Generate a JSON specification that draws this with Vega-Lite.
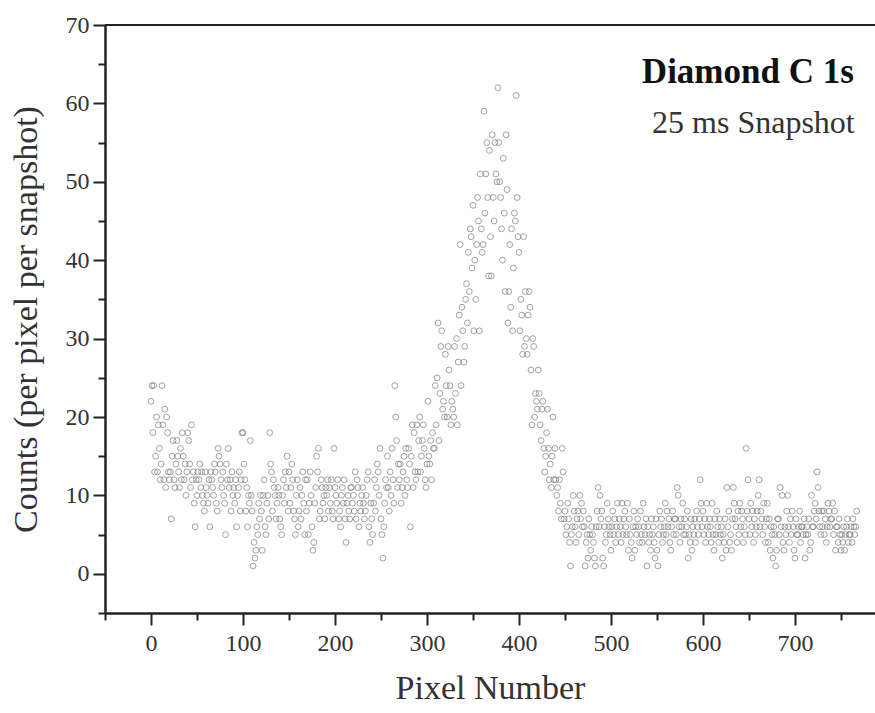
{
"$schema": "https://vega.github.io/schema/vega-lite/v6.json",
"autosize": {"type": "none"},
"padding": {"left": 105, "top": 25, "right": 0, "bottom": 100},
"width": 770,
"height": 588,
"background": "white",
"config": {"view": {"stroke": null}, "axis": {"grid": false}},
"datasets": {
"spectrum": [
{"pixel":0,"counts":22},{"pixel":1,"counts":24},{"pixel":2,"counts":18},{"pixel":3,"counts":24},{"pixel":4,"counts":13},{"pixel":5,"counts":15},{"pixel":6,"counts":20},{"pixel":7,"counts":13},{"pixel":8,"counts":19},{"pixel":9,"counts":16},
{"pixel":10,"counts":12},{"pixel":11,"counts":14},{"pixel":12,"counts":24},{"pixel":13,"counts":19},{"pixel":14,"counts":12},{"pixel":15,"counts":21},{"pixel":16,"counts":11},{"pixel":17,"counts":20},{"pixel":18,"counts":18},{"pixel":19,"counts":13},
{"pixel":20,"counts":12},{"pixel":21,"counts":13},{"pixel":22,"counts":7},{"pixel":23,"counts":15},{"pixel":24,"counts":17},{"pixel":25,"counts":12},{"pixel":26,"counts":11},{"pixel":27,"counts":14},{"pixel":28,"counts":17},{"pixel":29,"counts":15},
{"pixel":30,"counts":13},{"pixel":31,"counts":11},{"pixel":32,"counts":16},{"pixel":33,"counts":12},{"pixel":34,"counts":18},{"pixel":35,"counts":15},{"pixel":36,"counts":12},{"pixel":37,"counts":14},{"pixel":38,"counts":10},{"pixel":39,"counts":13},
{"pixel":40,"counts":18},{"pixel":41,"counts":17},{"pixel":42,"counts":14},{"pixel":43,"counts":11},{"pixel":44,"counts":19},{"pixel":45,"counts":12},{"pixel":46,"counts":13},{"pixel":47,"counts":9},{"pixel":48,"counts":6},{"pixel":49,"counts":12},
{"pixel":50,"counts":10},{"pixel":51,"counts":13},{"pixel":52,"counts":12},{"pixel":53,"counts":14},{"pixel":54,"counts":11},{"pixel":55,"counts":13},{"pixel":56,"counts":10},{"pixel":57,"counts":9},{"pixel":58,"counts":8},{"pixel":59,"counts":13},
{"pixel":60,"counts":11},{"pixel":61,"counts":10},{"pixel":62,"counts":9},{"pixel":63,"counts":12},{"pixel":64,"counts":6},{"pixel":65,"counts":13},{"pixel":66,"counts":12},{"pixel":67,"counts":11},{"pixel":68,"counts":10},{"pixel":69,"counts":14},
{"pixel":70,"counts":13},{"pixel":71,"counts":9},{"pixel":72,"counts":8},{"pixel":73,"counts":16},{"pixel":74,"counts":15},{"pixel":75,"counts":14},{"pixel":76,"counts":12},{"pixel":77,"counts":11},{"pixel":78,"counts":13},{"pixel":79,"counts":10},
{"pixel":80,"counts":9},{"pixel":81,"counts":5},{"pixel":82,"counts":14},{"pixel":83,"counts":12},{"pixel":84,"counts":16},{"pixel":85,"counts":11},{"pixel":86,"counts":12},{"pixel":87,"counts":8},{"pixel":88,"counts":13},{"pixel":89,"counts":10},
{"pixel":90,"counts":11},{"pixel":91,"counts":9},{"pixel":92,"counts":12},{"pixel":93,"counts":6},{"pixel":94,"counts":10},{"pixel":95,"counts":11},{"pixel":96,"counts":13},{"pixel":97,"counts":8},{"pixel":98,"counts":12},{"pixel":99,"counts":18},
{"pixel":100,"counts":18},{"pixel":101,"counts":14},{"pixel":102,"counts":12},{"pixel":103,"counts":8},{"pixel":104,"counts":11},{"pixel":105,"counts":6},{"pixel":106,"counts":10},{"pixel":107,"counts":9},{"pixel":108,"counts":17},{"pixel":109,"counts":10},
{"pixel":110,"counts":8},{"pixel":111,"counts":1},{"pixel":112,"counts":4},{"pixel":113,"counts":2},{"pixel":114,"counts":3},{"pixel":115,"counts":6},{"pixel":116,"counts":5},{"pixel":117,"counts":9},{"pixel":118,"counts":7},{"pixel":119,"counts":10},
{"pixel":120,"counts":8},{"pixel":121,"counts":3},{"pixel":122,"counts":10},{"pixel":123,"counts":12},{"pixel":124,"counts":6},{"pixel":125,"counts":5},{"pixel":126,"counts":9},{"pixel":127,"counts":10},{"pixel":128,"counts":7},{"pixel":129,"counts":18},
{"pixel":130,"counts":14},{"pixel":131,"counts":13},{"pixel":132,"counts":8},{"pixel":133,"counts":12},{"pixel":134,"counts":11},{"pixel":135,"counts":10},{"pixel":136,"counts":7},{"pixel":137,"counts":9},{"pixel":138,"counts":11},{"pixel":139,"counts":10},
{"pixel":140,"counts":7},{"pixel":141,"counts":6},{"pixel":142,"counts":5},{"pixel":143,"counts":10},{"pixel":144,"counts":12},{"pixel":145,"counts":9},{"pixel":146,"counts":13},{"pixel":147,"counts":11},{"pixel":148,"counts":15},{"pixel":149,"counts":8},
{"pixel":150,"counts":13},{"pixel":151,"counts":9},{"pixel":152,"counts":11},{"pixel":153,"counts":14},{"pixel":154,"counts":12},{"pixel":155,"counts":8},{"pixel":156,"counts":7},{"pixel":157,"counts":5},{"pixel":158,"counts":10},{"pixel":159,"counts":12},
{"pixel":160,"counts":6},{"pixel":161,"counts":8},{"pixel":162,"counts":11},{"pixel":163,"counts":7},{"pixel":164,"counts":10},{"pixel":165,"counts":13},{"pixel":166,"counts":9},{"pixel":167,"counts":5},{"pixel":168,"counts":12},{"pixel":169,"counts":8},
{"pixel":170,"counts":12},{"pixel":171,"counts":5},{"pixel":172,"counts":9},{"pixel":173,"counts":13},{"pixel":174,"counts":10},{"pixel":175,"counts":6},{"pixel":176,"counts":3},{"pixel":177,"counts":4},{"pixel":178,"counts":9},{"pixel":179,"counts":11},
{"pixel":180,"counts":15},{"pixel":181,"counts":13},{"pixel":182,"counts":16},{"pixel":183,"counts":7},{"pixel":184,"counts":8},{"pixel":185,"counts":12},{"pixel":186,"counts":11},{"pixel":187,"counts":9},{"pixel":188,"counts":10},{"pixel":189,"counts":7},
{"pixel":190,"counts":11},{"pixel":191,"counts":10},{"pixel":192,"counts":12},{"pixel":193,"counts":8},{"pixel":194,"counts":11},{"pixel":195,"counts":9},{"pixel":196,"counts":12},{"pixel":197,"counts":8},{"pixel":198,"counts":7},{"pixel":199,"counts":16},
{"pixel":200,"counts":11},{"pixel":201,"counts":10},{"pixel":202,"counts":9},{"pixel":203,"counts":12},{"pixel":204,"counts":7},{"pixel":205,"counts":8},{"pixel":206,"counts":6},{"pixel":207,"counts":10},{"pixel":208,"counts":11},{"pixel":209,"counts":9},
{"pixel":210,"counts":12},{"pixel":211,"counts":7},{"pixel":212,"counts":4},{"pixel":213,"counts":9},{"pixel":214,"counts":10},{"pixel":215,"counts":8},{"pixel":216,"counts":7},{"pixel":217,"counts":11},{"pixel":218,"counts":11},{"pixel":219,"counts":9},
{"pixel":220,"counts":10},{"pixel":221,"counts":8},{"pixel":222,"counts":13},{"pixel":223,"counts":7},{"pixel":224,"counts":12},{"pixel":225,"counts":11},{"pixel":226,"counts":6},{"pixel":227,"counts":9},{"pixel":228,"counts":8},{"pixel":229,"counts":10},
{"pixel":230,"counts":11},{"pixel":231,"counts":9},{"pixel":232,"counts":7},{"pixel":233,"counts":8},{"pixel":234,"counts":10},{"pixel":235,"counts":12},{"pixel":236,"counts":13},{"pixel":237,"counts":6},{"pixel":238,"counts":4},{"pixel":239,"counts":9},
{"pixel":240,"counts":7},{"pixel":241,"counts":5},{"pixel":242,"counts":9},{"pixel":243,"counts":12},{"pixel":244,"counts":8},{"pixel":245,"counts":11},{"pixel":246,"counts":14},{"pixel":247,"counts":13},{"pixel":248,"counts":10},{"pixel":249,"counts":16},
{"pixel":250,"counts":7},{"pixel":251,"counts":5},{"pixel":252,"counts":2},{"pixel":253,"counts":6},{"pixel":254,"counts":9},{"pixel":255,"counts":12},{"pixel":256,"counts":11},{"pixel":257,"counts":15},{"pixel":258,"counts":11},{"pixel":259,"counts":8},
{"pixel":260,"counts":13},{"pixel":261,"counts":10},{"pixel":262,"counts":16},{"pixel":263,"counts":12},{"pixel":264,"counts":9},{"pixel":265,"counts":24},{"pixel":266,"counts":20},{"pixel":267,"counts":17},{"pixel":268,"counts":11},{"pixel":269,"counts":14},
{"pixel":270,"counts":12},{"pixel":271,"counts":14},{"pixel":272,"counts":9},{"pixel":273,"counts":11},{"pixel":274,"counts":13},{"pixel":275,"counts":15},{"pixel":276,"counts":10},{"pixel":277,"counts":16},{"pixel":278,"counts":12},{"pixel":279,"counts":11},
{"pixel":280,"counts":16},{"pixel":281,"counts":14},{"pixel":282,"counts":6},{"pixel":283,"counts":15},{"pixel":284,"counts":19},{"pixel":285,"counts":11},{"pixel":286,"counts":18},{"pixel":287,"counts":13},{"pixel":288,"counts":12},{"pixel":289,"counts":19},
{"pixel":290,"counts":13},{"pixel":291,"counts":17},{"pixel":292,"counts":20},{"pixel":293,"counts":13},{"pixel":294,"counts":15},{"pixel":295,"counts":17},{"pixel":296,"counts":19},{"pixel":297,"counts":16},{"pixel":298,"counts":12},{"pixel":299,"counts":11},
{"pixel":300,"counts":14},{"pixel":301,"counts":22},{"pixel":302,"counts":15},{"pixel":303,"counts":14},{"pixel":304,"counts":17},{"pixel":305,"counts":12},{"pixel":306,"counts":18},{"pixel":307,"counts":16},{"pixel":308,"counts":16},{"pixel":309,"counts":24},
{"pixel":310,"counts":19},{"pixel":311,"counts":25},{"pixel":312,"counts":32},{"pixel":313,"counts":17},{"pixel":314,"counts":23},{"pixel":315,"counts":29},{"pixel":316,"counts":31},{"pixel":317,"counts":21},{"pixel":318,"counts":22},{"pixel":319,"counts":20},
{"pixel":320,"counts":28},{"pixel":321,"counts":24},{"pixel":322,"counts":20},{"pixel":323,"counts":29},{"pixel":324,"counts":26},{"pixel":325,"counts":24},{"pixel":326,"counts":19},{"pixel":327,"counts":22},{"pixel":328,"counts":21},{"pixel":329,"counts":20},
{"pixel":330,"counts":29},{"pixel":331,"counts":23},{"pixel":332,"counts":30},{"pixel":333,"counts":19},{"pixel":334,"counts":27},{"pixel":335,"counts":33},{"pixel":336,"counts":42},{"pixel":337,"counts":24},{"pixel":338,"counts":34},{"pixel":339,"counts":31},
{"pixel":340,"counts":27},{"pixel":341,"counts":29},{"pixel":342,"counts":35},{"pixel":343,"counts":37},{"pixel":344,"counts":32},{"pixel":345,"counts":41},{"pixel":346,"counts":36},{"pixel":347,"counts":44},{"pixel":348,"counts":43},{"pixel":349,"counts":39},
{"pixel":350,"counts":47},{"pixel":351,"counts":31},{"pixel":352,"counts":40},{"pixel":353,"counts":35},{"pixel":354,"counts":42},{"pixel":355,"counts":48},{"pixel":356,"counts":45},{"pixel":357,"counts":31},{"pixel":358,"counts":51},{"pixel":359,"counts":44},
{"pixel":360,"counts":41},{"pixel":361,"counts":42},{"pixel":362,"counts":59},{"pixel":363,"counts":46},{"pixel":364,"counts":51},{"pixel":365,"counts":55},{"pixel":366,"counts":48},{"pixel":367,"counts":38},{"pixel":368,"counts":54},{"pixel":369,"counts":43},
{"pixel":370,"counts":38},{"pixel":371,"counts":56},{"pixel":372,"counts":48},{"pixel":373,"counts":45},{"pixel":374,"counts":55},{"pixel":375,"counts":51},{"pixel":376,"counts":50},{"pixel":377,"counts":62},{"pixel":378,"counts":55},{"pixel":379,"counts":50},
{"pixel":380,"counts":48},{"pixel":381,"counts":44},{"pixel":382,"counts":40},{"pixel":383,"counts":53},{"pixel":384,"counts":46},{"pixel":385,"counts":36},{"pixel":386,"counts":56},{"pixel":387,"counts":49},{"pixel":388,"counts":32},{"pixel":389,"counts":36},
{"pixel":390,"counts":42},{"pixel":391,"counts":34},{"pixel":392,"counts":44},{"pixel":393,"counts":31},{"pixel":394,"counts":39},{"pixel":395,"counts":46},{"pixel":396,"counts":45},{"pixel":397,"counts":61},{"pixel":398,"counts":48},{"pixel":399,"counts":43},
{"pixel":400,"counts":41},{"pixel":401,"counts":31},{"pixel":402,"counts":35},{"pixel":403,"counts":33},{"pixel":404,"counts":28},{"pixel":405,"counts":43},{"pixel":406,"counts":29},{"pixel":407,"counts":36},{"pixel":408,"counts":30},{"pixel":409,"counts":28},
{"pixel":410,"counts":33},{"pixel":411,"counts":36},{"pixel":412,"counts":34},{"pixel":413,"counts":26},{"pixel":414,"counts":19},{"pixel":415,"counts":30},{"pixel":416,"counts":29},{"pixel":417,"counts":20},{"pixel":418,"counts":23},{"pixel":419,"counts":22},
{"pixel":420,"counts":21},{"pixel":421,"counts":26},{"pixel":422,"counts":23},{"pixel":423,"counts":19},{"pixel":424,"counts":17},{"pixel":425,"counts":21},{"pixel":426,"counts":22},{"pixel":427,"counts":16},{"pixel":428,"counts":13},{"pixel":429,"counts":15},
{"pixel":430,"counts":18},{"pixel":431,"counts":21},{"pixel":432,"counts":16},{"pixel":433,"counts":12},{"pixel":434,"counts":14},{"pixel":435,"counts":11},{"pixel":436,"counts":15},{"pixel":437,"counts":20},{"pixel":438,"counts":12},{"pixel":439,"counts":16},
{"pixel":440,"counts":12},{"pixel":441,"counts":10},{"pixel":442,"counts":11},{"pixel":443,"counts":8},{"pixel":444,"counts":12},{"pixel":445,"counts":9},{"pixel":446,"counts":7},{"pixel":447,"counts":16},{"pixel":448,"counts":13},{"pixel":449,"counts":7},
{"pixel":450,"counts":8},{"pixel":451,"counts":5},{"pixel":452,"counts":6},{"pixel":453,"counts":9},{"pixel":454,"counts":7},{"pixel":455,"counts":4},{"pixel":456,"counts":1},{"pixel":457,"counts":5},{"pixel":458,"counts":6},{"pixel":459,"counts":10},
{"pixel":460,"counts":8},{"pixel":461,"counts":6},{"pixel":462,"counts":4},{"pixel":463,"counts":7},{"pixel":464,"counts":8},{"pixel":465,"counts":5},{"pixel":466,"counts":10},{"pixel":467,"counts":7},{"pixel":468,"counts":9},{"pixel":469,"counts":6},
{"pixel":470,"counts":8},{"pixel":471,"counts":6},{"pixel":472,"counts":1},{"pixel":473,"counts":4},{"pixel":474,"counts":5},{"pixel":475,"counts":2},{"pixel":476,"counts":7},{"pixel":477,"counts":5},{"pixel":478,"counts":3},{"pixel":479,"counts":6},
{"pixel":480,"counts":5},{"pixel":481,"counts":4},{"pixel":482,"counts":2},{"pixel":483,"counts":1},{"pixel":484,"counts":6},{"pixel":485,"counts":8},{"pixel":486,"counts":11},{"pixel":487,"counts":6},{"pixel":488,"counts":10},{"pixel":489,"counts":7},
{"pixel":490,"counts":8},{"pixel":491,"counts":2},{"pixel":492,"counts":1},{"pixel":493,"counts":6},{"pixel":494,"counts":4},{"pixel":495,"counts":5},{"pixel":496,"counts":9},{"pixel":497,"counts":7},{"pixel":498,"counts":6},{"pixel":499,"counts":5},
{"pixel":500,"counts":3},{"pixel":501,"counts":6},{"pixel":502,"counts":8},{"pixel":503,"counts":5},{"pixel":504,"counts":7},{"pixel":505,"counts":4},{"pixel":506,"counts":6},{"pixel":507,"counts":9},{"pixel":508,"counts":5},{"pixel":509,"counts":7},
{"pixel":510,"counts":6},{"pixel":511,"counts":4},{"pixel":512,"counts":9},{"pixel":513,"counts":5},{"pixel":514,"counts":7},{"pixel":515,"counts":8},{"pixel":516,"counts":6},{"pixel":517,"counts":5},{"pixel":518,"counts":9},{"pixel":519,"counts":3},
{"pixel":520,"counts":7},{"pixel":521,"counts":5},{"pixel":522,"counts":4},{"pixel":523,"counts":2},{"pixel":524,"counts":6},{"pixel":525,"counts":8},{"pixel":526,"counts":3},{"pixel":527,"counts":6},{"pixel":528,"counts":5},{"pixel":529,"counts":7},
{"pixel":530,"counts":6},{"pixel":531,"counts":4},{"pixel":532,"counts":8},{"pixel":533,"counts":5},{"pixel":534,"counts":4},{"pixel":535,"counts":9},{"pixel":536,"counts":6},{"pixel":537,"counts":5},{"pixel":538,"counts":7},{"pixel":539,"counts":1},
{"pixel":540,"counts":6},{"pixel":541,"counts":4},{"pixel":542,"counts":5},{"pixel":543,"counts":3},{"pixel":544,"counts":7},{"pixel":545,"counts":5},{"pixel":546,"counts":6},{"pixel":547,"counts":4},{"pixel":548,"counts":2},{"pixel":549,"counts":7},
{"pixel":550,"counts":3},{"pixel":551,"counts":1},{"pixel":552,"counts":5},{"pixel":553,"counts":8},{"pixel":554,"counts":6},{"pixel":555,"counts":7},{"pixel":556,"counts":4},{"pixel":557,"counts":5},{"pixel":558,"counts":6},{"pixel":559,"counts":9},
{"pixel":560,"counts":5},{"pixel":561,"counts":8},{"pixel":562,"counts":6},{"pixel":563,"counts":7},{"pixel":564,"counts":4},{"pixel":565,"counts":3},{"pixel":566,"counts":6},{"pixel":567,"counts":8},{"pixel":568,"counts":5},{"pixel":569,"counts":7},
{"pixel":570,"counts":7},{"pixel":571,"counts":5},{"pixel":572,"counts":11},{"pixel":573,"counts":10},{"pixel":574,"counts":6},{"pixel":575,"counts":4},{"pixel":576,"counts":7},{"pixel":577,"counts":6},{"pixel":578,"counts":9},{"pixel":579,"counts":5},
{"pixel":580,"counts":7},{"pixel":581,"counts":5},{"pixel":582,"counts":6},{"pixel":583,"counts":8},{"pixel":584,"counts":2},{"pixel":585,"counts":5},{"pixel":586,"counts":4},{"pixel":587,"counts":7},{"pixel":588,"counts":3},{"pixel":589,"counts":6},
{"pixel":590,"counts":5},{"pixel":591,"counts":7},{"pixel":592,"counts":4},{"pixel":593,"counts":8},{"pixel":594,"counts":6},{"pixel":595,"counts":5},{"pixel":596,"counts":7},{"pixel":597,"counts":12},{"pixel":598,"counts":9},{"pixel":599,"counts":6},
{"pixel":600,"counts":8},{"pixel":601,"counts":5},{"pixel":602,"counts":7},{"pixel":603,"counts":4},{"pixel":604,"counts":9},{"pixel":605,"counts":6},{"pixel":606,"counts":5},{"pixel":607,"counts":7},{"pixel":608,"counts":6},{"pixel":609,"counts":4},
{"pixel":610,"counts":9},{"pixel":611,"counts":5},{"pixel":612,"counts":3},{"pixel":613,"counts":7},{"pixel":614,"counts":5},{"pixel":615,"counts":8},{"pixel":616,"counts":6},{"pixel":617,"counts":4},{"pixel":618,"counts":7},{"pixel":619,"counts":5},
{"pixel":620,"counts":6},{"pixel":621,"counts":2},{"pixel":622,"counts":5},{"pixel":623,"counts":4},{"pixel":624,"counts":7},{"pixel":625,"counts":3},{"pixel":626,"counts":11},{"pixel":627,"counts":6},{"pixel":628,"counts":8},{"pixel":629,"counts":4},
{"pixel":630,"counts":5},{"pixel":631,"counts":3},{"pixel":632,"counts":7},{"pixel":633,"counts":11},{"pixel":634,"counts":9},{"pixel":635,"counts":7},{"pixel":636,"counts":6},{"pixel":637,"counts":4},{"pixel":638,"counts":8},{"pixel":639,"counts":5},
{"pixel":640,"counts":9},{"pixel":641,"counts":6},{"pixel":642,"counts":8},{"pixel":643,"counts":7},{"pixel":644,"counts":4},{"pixel":645,"counts":6},{"pixel":646,"counts":5},{"pixel":647,"counts":16},{"pixel":648,"counts":8},{"pixel":649,"counts":12},
{"pixel":650,"counts":7},{"pixel":651,"counts":5},{"pixel":652,"counts":9},{"pixel":653,"counts":6},{"pixel":654,"counts":8},{"pixel":655,"counts":4},{"pixel":656,"counts":7},{"pixel":657,"counts":5},{"pixel":658,"counts":6},{"pixel":659,"counts":8},
{"pixel":660,"counts":10},{"pixel":661,"counts":12},{"pixel":662,"counts":6},{"pixel":663,"counts":8},{"pixel":664,"counts":7},{"pixel":665,"counts":5},{"pixel":666,"counts":9},{"pixel":667,"counts":6},{"pixel":668,"counts":4},{"pixel":669,"counts":7},
{"pixel":670,"counts":9},{"pixel":671,"counts":4},{"pixel":672,"counts":7},{"pixel":673,"counts":3},{"pixel":674,"counts":6},{"pixel":675,"counts":5},{"pixel":676,"counts":2},{"pixel":677,"counts":6},{"pixel":678,"counts":5},{"pixel":679,"counts":1},
{"pixel":680,"counts":3},{"pixel":681,"counts":7},{"pixel":682,"counts":7},{"pixel":683,"counts":5},{"pixel":684,"counts":11},{"pixel":685,"counts":6},{"pixel":686,"counts":10},{"pixel":687,"counts":4},{"pixel":688,"counts":3},{"pixel":689,"counts":6},
{"pixel":690,"counts":5},{"pixel":691,"counts":8},{"pixel":692,"counts":10},{"pixel":693,"counts":6},{"pixel":694,"counts":4},{"pixel":695,"counts":7},{"pixel":696,"counts":5},{"pixel":697,"counts":8},{"pixel":698,"counts":6},{"pixel":699,"counts":3},
{"pixel":700,"counts":2},{"pixel":701,"counts":7},{"pixel":702,"counts":5},{"pixel":703,"counts":5},{"pixel":704,"counts":6},{"pixel":705,"counts":8},{"pixel":706,"counts":4},{"pixel":707,"counts":6},{"pixel":708,"counts":6},{"pixel":709,"counts":5},
{"pixel":710,"counts":7},{"pixel":711,"counts":2},{"pixel":712,"counts":5},{"pixel":713,"counts":6},{"pixel":714,"counts":5},{"pixel":715,"counts":7},{"pixel":716,"counts":3},{"pixel":717,"counts":4},{"pixel":718,"counts":10},{"pixel":719,"counts":6},
{"pixel":720,"counts":6},{"pixel":721,"counts":8},{"pixel":722,"counts":9},{"pixel":723,"counts":7},{"pixel":724,"counts":13},{"pixel":725,"counts":11},{"pixel":726,"counts":8},{"pixel":727,"counts":6},{"pixel":728,"counts":5},{"pixel":729,"counts":8},
{"pixel":730,"counts":6},{"pixel":731,"counts":8},{"pixel":732,"counts":5},{"pixel":733,"counts":7},{"pixel":734,"counts":4},{"pixel":735,"counts":6},{"pixel":736,"counts":9},{"pixel":737,"counts":8},{"pixel":738,"counts":6},{"pixel":739,"counts":7},
{"pixel":740,"counts":7},{"pixel":741,"counts":9},{"pixel":742,"counts":5},{"pixel":743,"counts":8},{"pixel":744,"counts":3},{"pixel":745,"counts":6},{"pixel":746,"counts":6},{"pixel":747,"counts":4},{"pixel":748,"counts":7},{"pixel":749,"counts":5},
{"pixel":750,"counts":3},{"pixel":751,"counts":5},{"pixel":752,"counts":4},{"pixel":753,"counts":6},{"pixel":754,"counts":3},{"pixel":755,"counts":5},{"pixel":756,"counts":6},{"pixel":757,"counts":7},{"pixel":758,"counts":4},{"pixel":759,"counts":5},
{"pixel":760,"counts":5},{"pixel":761,"counts":6},{"pixel":762,"counts":4},{"pixel":763,"counts":7},{"pixel":764,"counts":6},{"pixel":765,"counts":5},{"pixel":766,"counts":6},{"pixel":767,"counts":8}
]
},
"layer": [
{
"data": {"name": "spectrum"},
"mark": {"type": "point", "shape": "circle", "filled": false, "color": "#7a7a7a", "strokeWidth": 1, "size": 34, "clip": true},
"encoding": {
"x": {"field": "pixel", "type": "quantitative",
"scale": {"domain": [-50, 787], "nice": false, "zero": false},
"axis": {"orient": "bottom", "values": [0, 100, 200, 300, 400, 500, 600, 700], "format": "d", "title": "Pixel Number", "grid": false,
"tickSize": 12, "tickWidth": 2, "tickColor": "#222", "domainColor": "#222", "domainWidth": 2.5,
"labelFont": "Liberation Serif", "labelFontSize": 24, "labelColor": "#333", "labelPadding": 6,
"titleFont": "Liberation Serif", "titleFontSize": 34, "titleFontWeight": "normal", "titleColor": "#333", "titlePadding": 16}},
"y": {"field": "counts", "type": "quantitative",
"scale": {"domain": [-5, 70], "nice": false, "zero": false},
"axis": {"orient": "left", "values": [0, 10, 20, 30, 40, 50, 60, 70], "format": "d", "title": "Counts (per pixel per snapshot)", "grid": false,
"tickSize": 12, "tickWidth": 2, "tickColor": "#222", "domainColor": "#222", "domainWidth": 2.5,
"labelFont": "Liberation Serif", "labelFontSize": 24, "labelColor": "#333", "labelPadding": 4,
"titleFont": "Liberation Serif", "titleFontSize": 34, "titleFontWeight": "normal", "titleColor": "#333", "titlePadding": 22}}
}
},
{
"data": {"values": [{}]},
"mark": {"type": "text", "text": "Diamond C 1s", "font": "Liberation Serif", "fontSize": 35, "fontWeight": "bold", "color": "#111", "align": "right", "baseline": "alphabetic"},
"encoding": {
"x": {"datum": 764, "type": "quantitative",
"axis": {"orient": "bottom", "values": [-50, 50, 150, 250, 350, 450, 550, 650, 750], "labels": false, "domain": false, "title": null, "grid": false, "tickSize": 7, "tickWidth": 2, "tickColor": "#222"}},
"y": {"datum": 62.6, "type": "quantitative",
"axis": {"orient": "left", "values": [-5, 5, 15, 25, 35, 45, 55, 65], "labels": false, "domain": false, "title": null, "grid": false, "tickSize": 7, "tickWidth": 2, "tickColor": "#222"}}
}
},
{
"data": {"values": [{}]},
"mark": {"type": "text", "text": "25 ms Snapshot", "font": "Liberation Serif", "fontSize": 32, "color": "#333", "align": "right", "baseline": "alphabetic"},
"encoding": {
"x": {"datum": 765, "type": "quantitative", "axis": null},
"y": {"datum": 56.2, "type": "quantitative", "axis": null}
}
},
{
"data": {"values": [{}]},
"mark": {"type": "rule", "color": "#222", "strokeWidth": 2},
"encoding": {
"y": {"datum": 70, "type": "quantitative", "axis": null}
}
}
],
"resolve": {"axis": {"x": "independent", "y": "independent"}}
}
